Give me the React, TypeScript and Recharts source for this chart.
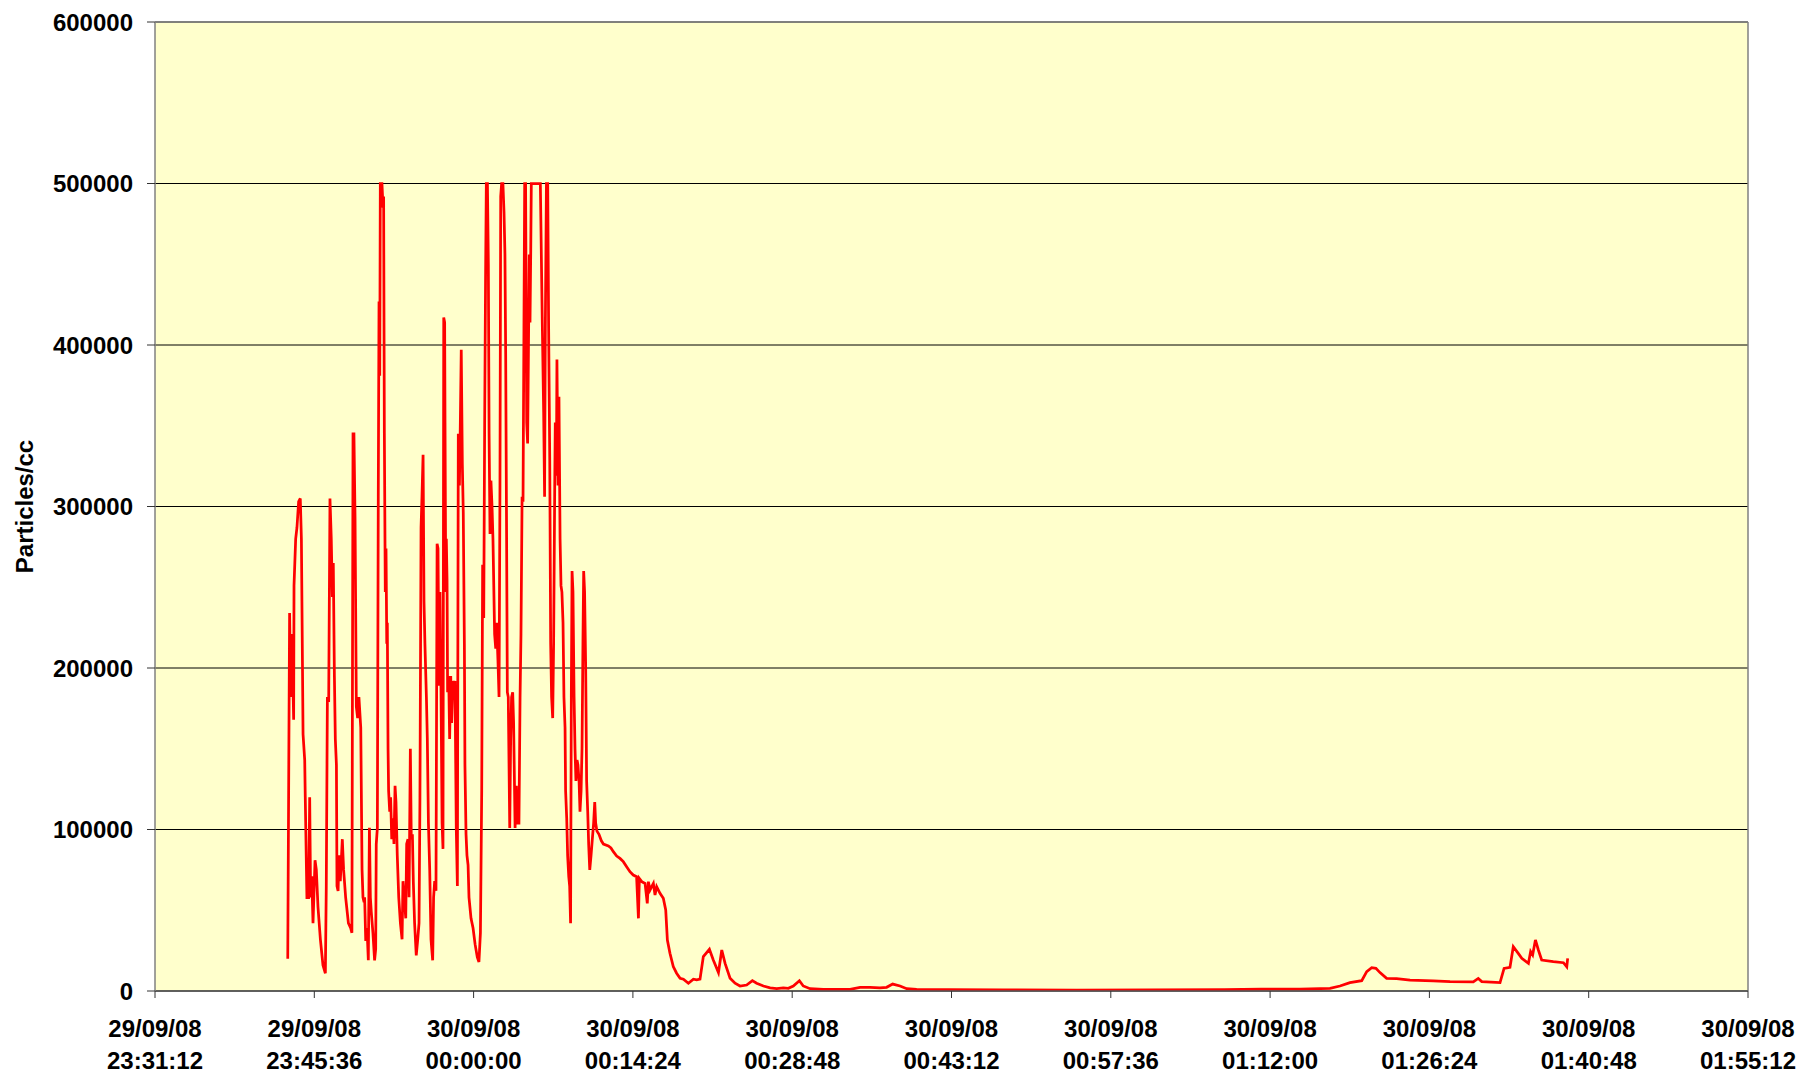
import React from 'react';
import { LineChart, Line, XAxis, YAxis, CartesianGrid, ReferenceLine } from 'recharts';

// Time axis: seconds after 29/09/08 23:31:12
const xTickSeconds = [0, 864, 1728, 2592, 3456, 4320, 5184, 6048, 6912, 7776, 8640];
const xTickDates = ['29/09/08', '29/09/08', '30/09/08', '30/09/08', '30/09/08', '30/09/08', '30/09/08', '30/09/08', '30/09/08', '30/09/08', '30/09/08'];
const xTickTimes = ['23:31:12', '23:45:36', '00:00:00', '00:14:24', '00:28:48', '00:43:12', '00:57:36', '01:12:00', '01:26:24', '01:40:48', '01:55:12'];
const yTicks = [0, 100000, 200000, 300000, 400000, 500000, 600000];

// [seconds, particles/cc]
const burstA: [number, number][] = [
  [720, 20000], [730, 234000], [736, 182000], [743, 221000], [752, 168000], [754, 251000], [763, 280000], [770, 287000],
  [779, 303000], [788, 305000], [794, 280000], [803, 159000], [812, 143000], [815, 120000], [824, 57000], [830, 71000],
  [833, 57000], [839, 120000], [844, 58000], [850, 71000], [857, 42000], [868, 81000], [875, 75000], [884, 52000],
  [897, 32000], [911, 16000], [924, 11000], [929, 65000], [935, 182000], [942, 179000], [949, 305000], [956, 280000],
  [962, 244000], [967, 265000], [973, 195000], [978, 156000], [984, 140000], [987, 65000], [993, 62000], [998, 84000],
  [1005, 68000], [1016, 94000], [1023, 75000], [1034, 58000], [1049, 42000], [1061, 39000], [1068, 36000], [1074, 345000],
  [1079, 345000], [1085, 293000], [1092, 176000], [1099, 169000], [1106, 182000], [1116, 163000], [1123, 75000],
  [1128, 58000], [1134, 55000],
];

const burstB: [number, number][] = [
  [1137, 58000], [1143, 31000], [1150, 39000], [1157, 19000], [1163, 101000], [1168, 58000], [1173, 49000], [1182, 36000],
  [1191, 19000], [1197, 26000], [1200, 91000], [1206, 101000], [1211, 306000], [1215, 427000], [1219, 381000],
  [1222, 500000], [1231, 500000], [1237, 485000], [1240, 492000], [1244, 345000], [1249, 247000], [1253, 274000],
  [1257, 215000], [1260, 228000], [1264, 150000], [1267, 124000], [1273, 111000], [1278, 120000], [1284, 94000],
  [1291, 107000], [1296, 91000], [1302, 127000], [1307, 117000], [1314, 84000], [1322, 58000], [1331, 42000],
  [1340, 32000], [1345, 68000], [1352, 58000], [1360, 45000], [1365, 91000], [1372, 94000], [1378, 58000],
  [1385, 150000], [1390, 94000], [1396, 97000], [1401, 68000], [1408, 42000], [1417, 22000], [1425, 32000],
  [1432, 42000], [1437, 120000], [1443, 287000], [1448, 306000], [1454, 332000], [1459, 241000], [1464, 215000],
  [1472, 182000], [1477, 156000], [1483, 104000], [1490, 75000], [1497, 32000], [1506, 19000], [1511, 58000],
  [1517, 68000], [1524, 62000], [1530, 277000], [1535, 274000], [1540, 189000], [1546, 247000], [1551, 189000],
  [1557, 104000], [1562, 88000], [1566, 417000], [1571, 414000],
];

const burstC: [number, number][] = [
  [1573, 352000], [1577, 247000], [1580, 280000], [1584, 254000], [1587, 185000], [1593, 195000], [1598, 156000],
  [1604, 195000], [1609, 166000], [1616, 192000], [1622, 182000], [1627, 192000], [1634, 101000], [1640, 65000],
  [1645, 345000], [1651, 313000], [1656, 352000], [1661, 397000], [1667, 326000], [1672, 296000], [1678, 215000],
  [1681, 140000], [1687, 97000], [1692, 84000], [1698, 78000], [1703, 58000], [1714, 45000], [1725, 39000],
  [1736, 29000], [1748, 21000], [1757, 18000], [1765, 36000], [1772, 124000], [1777, 264000], [1783, 231000],
  [1788, 352000], [1793, 443000], [1797, 500000], [1803, 500000], [1808, 450000], [1812, 345000], [1817, 283000],
  [1822, 316000], [1828, 300000], [1833, 280000], [1842, 221000], [1848, 212000], [1853, 228000], [1860, 205000],
  [1866, 182000], [1871, 313000], [1875, 492000], [1880, 500000], [1887, 500000], [1893, 482000], [1898, 456000],
  [1902, 394000], [1907, 280000], [1911, 185000], [1916, 182000], [1924, 101000], [1929, 156000], [1934, 182000],
  [1940, 185000], [1945, 166000], [1953, 101000], [1960, 127000], [1965, 104000], [1974, 104000], [1980, 182000],
  [1985, 221000], [1991, 306000], [1996, 303000], [2001, 410000], [2005, 500000],
];

const burstD: [number, number][] = [
  [2010, 500000], [2016, 352000], [2021, 339000], [2027, 417000], [2030, 456000], [2034, 414000], [2038, 459000],
  [2041, 500000], [2090, 500000], [2095, 459000], [2101, 410000], [2108, 358000], [2113, 306000], [2117, 410000],
  [2123, 500000], [2130, 500000], [2135, 410000], [2141, 329000], [2146, 215000], [2151, 182000], [2157, 169000],
  [2162, 215000], [2168, 313000], [2171, 352000], [2177, 319000], [2180, 391000], [2186, 313000], [2191, 368000],
  [2197, 280000], [2202, 251000], [2207, 247000], [2213, 228000], [2218, 182000], [2224, 163000], [2227, 124000],
  [2233, 107000], [2238, 84000], [2244, 71000], [2249, 65000], [2254, 42000], [2258, 182000], [2262, 260000],
  [2267, 247000], [2273, 182000], [2278, 150000], [2283, 130000], [2289, 143000], [2294, 140000], [2300, 130000],
  [2305, 111000], [2311, 124000], [2316, 150000], [2321, 215000], [2325, 260000], [2330, 247000], [2336, 199000],
  [2341, 130000], [2347, 111000], [2352, 91000], [2358, 75000], [2365, 84000], [2372, 94000], [2379, 104000],
  [2385, 117000], [2390, 104000], [2397, 99000], [2408, 97000], [2421, 93000], [2432, 91000],
];

const decay: [number, number][] = [
  [2459, 89800], [2473, 88600], [2486, 86300], [2504, 83600], [2522, 82100], [2540, 80100], [2558, 77000],
  [2576, 73900], [2594, 71800], [2612, 70800], [2622, 45000], [2627, 69700], [2640, 67700], [2658, 66600],
  [2670, 54300], [2676, 67700], [2685, 62500], [2694, 64600], [2703, 66600], [2712, 59400], [2721, 64600],
  [2739, 60500], [2757, 57400], [2770, 50200], [2779, 31600], [2793, 23400], [2811, 15100], [2829, 11000],
  [2848, 7900], [2866, 7300], [2893, 4800], [2920, 7300], [2938, 6900], [2956, 7300], [2974, 21300], [3007, 25800],
  [3028, 19200], [3056, 11400], [3074, 25400], [3092, 17100], [3119, 7900], [3146, 4800], [3173, 3100],
  [3209, 3700], [3240, 6400], [3263, 4800], [3300, 3100], [3336, 1900], [3372, 1400], [3408, 1900], [3435, 1700],
  [3462, 3100], [3495, 6400], [3516, 3100], [3553, 1400], [3625, 1000], [3770, 1000], [3824, 2300], [3878, 2300],
  [3932, 1900], [3968, 2300], [4001, 4300], [4041, 3100], [4077, 1400], [4131, 1000],
];

const quiet: [number, number][] = [
  [4300, 900], [4600, 700], [5000, 600], [5400, 700], [5800, 900], [6000, 1100], [6210, 1200],
];

const tail: [number, number][] = [
  [6373, 1600], [6427, 3100], [6481, 5200], [6545, 6400], [6572, 12000], [6599, 14400], [6622, 14000],
  [6644, 11400], [6680, 7800], [6734, 7600], [6807, 6800], [6933, 6200], [7024, 5800], [7150, 5600], [7177, 7800],
  [7196, 5800], [7295, 5200], [7317, 14000], [7349, 14600], [7367, 27400], [7394, 23300], [7413, 20200],
  [7449, 17100], [7461, 24400], [7472, 22300], [7487, 31600], [7503, 25400], [7521, 19200], [7584, 18200],
  [7639, 17500], [7657, 15000], [7662, 20200],
];

const data = [...burstA, ...burstB, ...burstC, ...burstD, ...decay, ...quiet, ...tail].map(([t, v]) => ({ t, v }));

const FONT = '"Liberation Sans", Arial, "DejaVu Sans", sans-serif';

const XTick = (props: any) => {
  const { x, y, payload } = props;
  const i = xTickSeconds.indexOf(payload.value);
  return (
    <g>
      <text x={x} y={y + 39} textAnchor="middle" fontFamily={FONT} fontWeight="bold" fontSize={24} fill="#000">
        {xTickDates[i]}
      </text>
      <text x={x} y={y + 71} textAnchor="middle" fontFamily={FONT} fontWeight="bold" fontSize={24} fill="#000">
        {xTickTimes[i]}
      </text>
    </g>
  );
};

const YLabel = (props: any) => {
  const vb = props.viewBox || { x: 0, y: 22, width: 155, height: 969 };
  const cx = vb.x + 33;
  const cy = vb.y + vb.height / 2;
  return (
    <text
      x={cx}
      y={cy}
      transform={`rotate(-90, ${cx}, ${cy})`}
      textAnchor="middle"
      fontFamily={FONT}
      fontWeight="bold"
      fontSize={24}
      fill="#000"
    >
      Particles/cc
    </text>
  );
};

export default function App() {
  return (
    <div style={{ position: 'absolute', left: 0, top: 0, width: 1805, height: 1076, background: '#fff' }}>
      <LineChart width={1805} height={1076} data={data} margin={{ top: 22, right: 57, bottom: 0, left: 0 }}>
        <CartesianGrid horizontal vertical={false} stroke="#000" strokeWidth={1} fill="#FFFFCC" fillOpacity={1} />
        <XAxis
          dataKey="t"
          type="number"
          domain={[0, 8640]}
          ticks={xTickSeconds}
          interval={0}
          height={85}
          tickSize={7}
          tickMargin={0}
          axisLine={{ stroke: '#555', strokeWidth: 1.5 }}
          tickLine={{ stroke: '#333' }}
          tick={<XTick />}
          allowDataOverflow
        />
        <YAxis
          type="number"
          domain={[0, 600000]}
          ticks={yTicks}
          interval={0}
          width={155}
          tickSize={8}
          tickMargin={14}
          axisLine={{ stroke: '#808080', strokeWidth: 1.5 }}
          tickLine={{ stroke: '#333' }}
          tick={{ fill: '#000', fontSize: 24, fontWeight: 'bold', fontFamily: FONT }}
          label={<YLabel />}
          allowDataOverflow
        />
        <ReferenceLine y={600000} stroke="#808080" strokeWidth={1.5} />
        <ReferenceLine x={8640} stroke="#808080" strokeWidth={1.5} />
        <Line
          type="linear"
          dataKey="v"
          stroke="#FF0000"
          strokeWidth={2.75}
          dot={false}
          activeDot={false}
          isAnimationActive={false}
        />
      </LineChart>
    </div>
  );
}
